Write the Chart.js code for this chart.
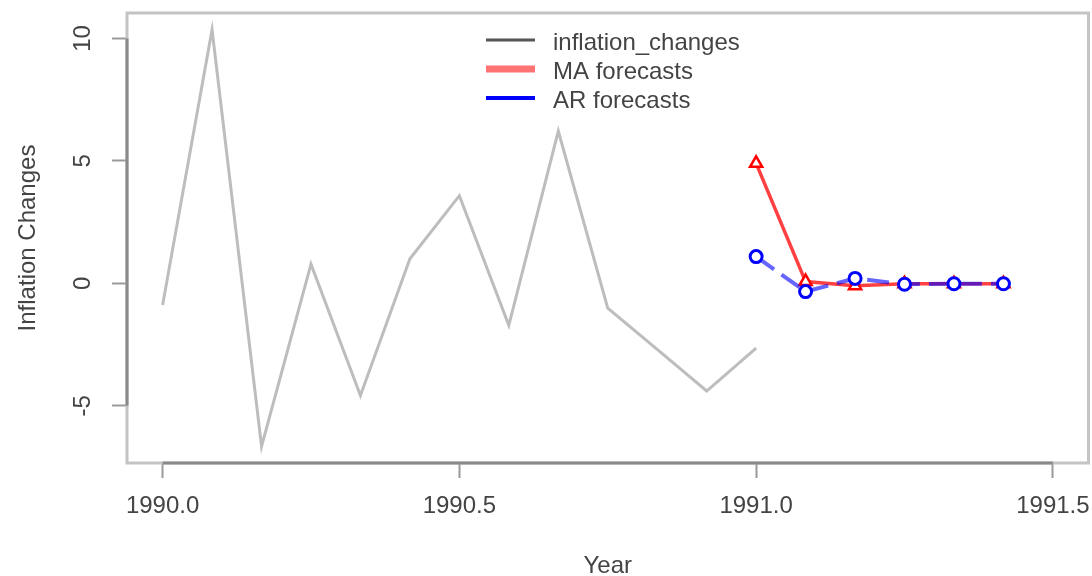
<!DOCTYPE html>
<html>
<head>
<meta charset="utf-8">
<script src="https://cdn.jsdelivr.net/npm/chart.js@4.4.1/dist/chart.umd.min.js"></script>
<style>
  html, body { margin: 0; padding: 0; background: #ffffff; overflow: hidden; width: 1092px; height: 576px; }
  #c { display: block; }
</style>
</head>
<body>
<canvas id="c" width="1098" height="576"></canvas>
<script>
// ---- data ----
const inflationTime = [1990.0000, 1990.0833, 1990.1667, 1990.2500, 1990.3333, 1990.4167, 1990.5000,
                       1990.5833, 1990.6667, 1990.7500, 1990.8333, 1990.9167, 1991.0000];
const inflationChanges = [-0.89, 10.36, -6.66, 0.78, -4.58, 1.0, 3.58, -1.72, 6.22, -1.02, -2.7, -4.4, -2.65];

const forecastTime = [1991.0000, 1991.0833, 1991.1667, 1991.2500, 1991.3333, 1991.4167];
const maForecasts = [4.9, 0.07, -0.1, -0.02, -0.02, -0.02];
const arForecasts = [1.09, -0.34, 0.2, -0.04, -0.02, -0.02];

const seriesNames = ['inflation_changes', 'MA forecasts', 'AR forecasts'];
const xTicks = [1990.0, 1990.5, 1991.0, 1991.5];
const xTickLabels = ['1990.0', '1990.5', '1991.0', '1991.5'];
const yTicks = [-5, 0, 5, 10];
const yTickLabels = ['-5', '0', '5', '10'];
const xTitle = 'Year';
const yTitle = 'Inflation Changes';

// ---- helpers ----
const toXY = (xs, ys) => xs.map((x, i) => ({ x: x, y: ys[i] }));
const FONT = "'Liberation Sans', Arial, sans-serif";
const TEXT = '#444444';

const noPad = () => ({ left: 0, top: 0, right: 0, bottom: 0 });
const zeroPad = s => {
  s.paddingTop = 0; s.paddingBottom = 0; s.paddingLeft = 0; s.paddingRight = 0;
  s.getPadding = noPad;
};

const frame = {
  id: 'frame',
  beforeDatasetsDraw(chart) {
    const { ctx, chartArea: a } = chart;
    ctx.save();
    ctx.strokeStyle = '#c4c4c4';
    ctx.lineWidth = 3;
    ctx.strokeRect(a.left, a.top, a.right - a.left, a.bottom - a.top);
    ctx.restore();
  },
  afterDraw(chart) {
    const { ctx, chartArea: a, scales } = chart;
    const xs = scales.x, ys = scales.y;
    ctx.save();
    ctx.strokeStyle = '#8a8a8a';
    ctx.lineWidth = 3;
    ctx.beginPath();
    ctx.moveTo(xs.getPixelForValue(xTicks[0]), a.bottom);
    ctx.lineTo(xs.getPixelForValue(xTicks[xTicks.length - 1]), a.bottom);
    ctx.moveTo(a.left, ys.getPixelForValue(yTicks[0]));
    ctx.lineTo(a.left, ys.getPixelForValue(yTicks[yTicks.length - 1]));
    ctx.stroke();

    // legend
    const legendColors = ['#555555', 'rgba(255,80,80,0.8)', '#0000ff'];
    const legendWidths = [3, 7, 4];
    const x0 = 486, x1 = 535, tx = 553;
    const rows = [40, 69, 98];
    ctx.font = '24px ' + FONT;
    ctx.textBaseline = 'middle';
    ctx.textAlign = 'left';
    seriesNames.forEach((name, i) => {
      ctx.strokeStyle = legendColors[i];
      ctx.lineWidth = legendWidths[i];
      ctx.beginPath();
      ctx.moveTo(x0, rows[i]);
      ctx.lineTo(x1, rows[i]);
      ctx.stroke();
      ctx.fillStyle = TEXT;
      ctx.fillText(name, tx, rows[i] + 3);
    });
    ctx.restore();
  }
};

new Chart(document.getElementById('c'), {
  type: 'line',
  data: {
    datasets: [
      {
        label: seriesNames[0],
        data: toXY(inflationTime, inflationChanges),
        borderColor: '#bdbdbd',
        borderWidth: 3,
        pointRadius: 0,
        tension: 0,
        order: 2
      },
      {
        label: seriesNames[1],
        data: toXY(forecastTime, maForecasts),
        borderColor: 'rgba(255,0,0,0.75)',
        borderWidth: 3.5,
        pointStyle: 'triangle',
        pointRadius: 7,
        pointBorderWidth: 2.5,
        pointBorderColor: '#ff0000',
        pointBackgroundColor: '#ffffff',
        tension: 0,
        order: 1
      },
      {
        label: seriesNames[2],
        data: toXY(forecastTime, arForecasts),
        borderColor: 'rgba(0,0,255,0.6)',
        borderWidth: 4,
        borderDash: [22, 9],
        pointStyle: 'circle',
        pointRadius: 6,
        pointBorderWidth: 3,
        pointBorderColor: '#0000ff',
        pointBackgroundColor: '#ffffff',
        tension: 0,
        order: 0
      }
    ]
  },
  options: {
    responsive: false,
    animation: false,
    layout: { padding: { top: 13, right: 4, left: 0, bottom: 0 } },
    plugins: { legend: { display: false }, tooltip: { enabled: false } },
    scales: {
      x: {
        type: 'linear',
        min: 1989.94,
        max: 1991.56,
        afterBuildTicks: s => { s.ticks = xTicks.map(v => ({ value: v })); },
        afterFit: s => { s.height = 113; zeroPad(s); },
        grid: { drawOnChartArea: false, drawTicks: true, tickLength: 15, tickColor: '#9a9a9a', tickWidth: 2 },
        border: { display: false },
        ticks: {
          callback: (v, i) => xTickLabels[i],
          font: { family: FONT, size: 24 },
          color: TEXT,
          padding: 14,
          maxRotation: 0,
          minRotation: 0,
          autoSkip: false
        },
        title: {
          display: true,
          text: xTitle,
          font: { family: FONT, size: 24, lineHeight: 0.8 },
          color: TEXT,
          padding: { top: 0, bottom: 0 }
        }
      },
      y: {
        type: 'linear',
        min: -7.34,
        max: 11.04,
        afterBuildTicks: s => { s.ticks = yTicks.map(v => ({ value: v })); },
        afterFit: s => { s.width = 127; zeroPad(s); },
        grid: { drawOnChartArea: false, drawTicks: true, tickLength: 15, tickColor: '#9a9a9a', tickWidth: 2 },
        border: { display: false },
        ticks: {
          callback: (v, i) => yTickLabels[i],
          font: { family: FONT, size: 24 },
          color: TEXT,
          padding: 15,
          minRotation: 90,
          maxRotation: 90,
          crossAlign: 'center',
          autoSkip: false
        },
        title: {
          display: true,
          text: yTitle,
          font: { family: FONT, size: 24, lineHeight: 1 },
          color: TEXT,
          padding: { top: 16, bottom: 0 }
        }
      }
    }
  },
  plugins: [frame]
});
</script>
</body>
</html>
